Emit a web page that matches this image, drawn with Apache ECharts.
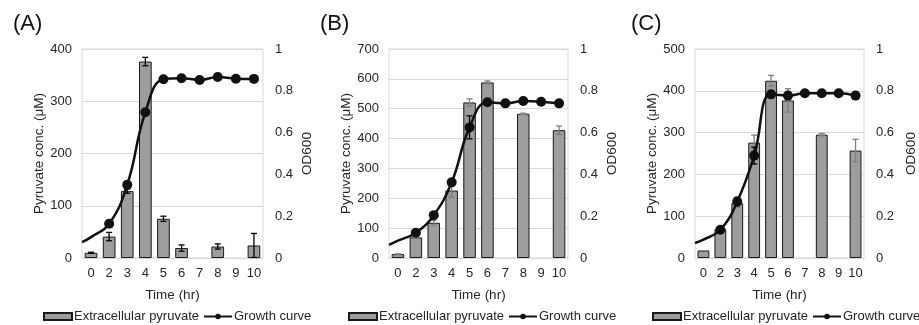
<!DOCTYPE html>
<html>
<head>
<meta charset="utf-8">
<script src="https://cdn.jsdelivr.net/npm/echarts@6/dist/echarts.min.js"></script>
<style>
  html, body { margin: 0; padding: 0; background: #fff; }
  #chart { width: 919px; height: 325px; }
</style>
</head>
<body>
<div id="chart"></div>
<script>
// time points (hr)
const categories = ['0', '2', '3', '4', '5', '6', '7', '8', '9', '10'];

// extracellular pyruvate (uM) and its error
const pyruvateA = [10, 41, 128, 376, 75, 19, null, 22, null, 24];
const pyruvateErrA = [1, 8, 4, 8, 5, 6, null, 5, null, 23];
const pyruvateB = [13, 69, 118, 226, 521, 588, null, 483, null, 428];
const pyruvateErrB = [1, 2, 8, 22, 12, 5, null, 2, null, 14];
const pyruvateC = [18, 69, 131, 276, 424, 377, null, 295, null, 257];
const pyruvateErrC = [0, 3, 10, 18, 13, 28, null, 3, null, 27];

// growth curve (OD600); first point at time 0 drawn without marker
const odA = [0.10, 0.164, 0.350, 0.697, 0.855, 0.860, 0.852, 0.866, 0.858, 0.857];
const odErrA = [null, null, null, null, null, null, null, null, null, null];
const odB = [0.083, 0.121, 0.205, 0.362, 0.625, 0.745, 0.740, 0.751, 0.748, 0.740];
const odErrB = [null, null, null, null, 0.055, null, null, null, null, null];
const odC = [0.088, 0.135, 0.270, 0.490, 0.783, 0.777, 0.788, 0.788, 0.788, 0.777];
const odErrC = [null, 0.012, 0.02, 0.04, null, null, null, null, null, null];

// curve value where it enters the plot at the left edge
const odEdge = [0.076, 0.063, 0.072];

const panels = [
  { label: '(A)', pyr: pyruvateA, pyrErr: pyruvateErrA, od: odA, odErr: odErrA, yMax: 400,
    left: 82, width: 181, labelLeft: 8, legendLeft: 38, barErrColor: '#000', nameGapL: 35, nameGapR: 37 },
  { label: '(B)', pyr: pyruvateB, pyrErr: pyruvateErrB, od: odB, odErr: odErrB, yMax: 700,
    left: 389, width: 179, labelLeft: 315, legendLeft: 343, barErrColor: '#7f7f7f', nameGapL: 36, nameGapR: 37 },
  { label: '(C)', pyr: pyruvateC, pyrErr: pyruvateErrC, od: odC, odErr: odErrC, yMax: 500,
    left: 695, width: 178, labelLeft: 626, legendLeft: 647, barErrColor: '#7f7f7f', nameGapL: 34, nameGapR: 40 }
];

const FONT = 'Liberation Sans';
const TEXT = '#262626';

function errorRender(color) {
  return function (params, api) {
    const x = api.value(0);
    const y = api.value(1);
    const e = api.value(2);
    const top = api.coord([x, y + e]);
    const bot = api.coord([x, y - e]);
    const cap = 3;
    const style = { stroke: color, lineWidth: 1.3 };
    return {
      type: 'group',
      children: [
        { type: 'line', shape: { x1: top[0], y1: top[1], x2: bot[0], y2: bot[1] }, style: style },
        { type: 'line', shape: { x1: top[0] - cap, y1: top[1], x2: top[0] + cap, y2: top[1] }, style: style },
        { type: 'line', shape: { x1: bot[0] - cap, y1: bot[1], x2: bot[0] + cap, y2: bot[1] }, style: style }
      ]
    };
  };
}

const option = {
  animation: false,
  textStyle: { fontFamily: FONT },
  title: [], grid: [], xAxis: [], yAxis: [], legend: [], series: []
};

panels.forEach(function (p, k) {
  option.title.push({
    text: p.label, left: p.labelLeft, top: 8,
    textStyle: { fontFamily: FONT, fontSize: 22, fontWeight: 'normal', color: '#111' }
  });
  option.grid.push({
    left: p.left, width: p.width, top: 49, bottom: 67,
    show: true, borderColor: '#d9d9d9', borderWidth: 1, backgroundColor: 'transparent'
  });
  // category axis for bars
  option.xAxis.push({
    type: 'category', gridIndex: k, data: categories,
    name: 'Time (hr)', nameLocation: 'middle', nameGap: 30,
    nameTextStyle: { fontFamily: FONT, fontSize: 13.5, color: TEXT },
    axisLine: { lineStyle: { color: '#d9d9d9' } },
    axisTick: { show: false },
    axisLabel: { fontFamily: FONT, fontSize: 13, color: TEXT, margin: 9, interval: 0 }
  });
  // hidden value axis for the growth curve, aligned with category centres
  option.xAxis.push({
    type: 'value', gridIndex: k, min: -0.5, max: categories.length - 0.5, show: false
  });
  option.yAxis.push({
    type: 'value', gridIndex: k, min: 0, max: p.yMax, interval: 100,
    name: 'Pyruvate conc. (μM)', nameLocation: 'middle', nameGap: p.nameGapL, nameRotate: 90,
    nameTextStyle: { fontFamily: FONT, fontSize: 13.5, color: TEXT },
    axisLine: { show: false }, axisTick: { show: false },
    axisLabel: { fontFamily: FONT, fontSize: 13, color: TEXT, margin: 10 },
    splitLine: { lineStyle: { color: '#d9d9d9' } }
  });
  option.yAxis.push({
    type: 'value', gridIndex: k, position: 'right', min: 0, max: 1, interval: 0.2,
    name: 'OD600', nameLocation: 'middle', nameGap: p.nameGapR, nameRotate: 90,
    nameTextStyle: { fontFamily: FONT, fontSize: 13.5, color: TEXT },
    axisLine: { show: false }, axisTick: { show: false },
    axisLabel: { fontFamily: FONT, fontSize: 13, color: TEXT, margin: 12 },
    splitLine: { show: false }
  });
  option.legend.push({
    left: p.legendLeft, top: 305, width: 320, itemWidth: 28, itemHeight: 7, itemGap: 4,
    textStyle: { fontFamily: FONT, fontSize: 13, color: TEXT, padding: [0, 0, 0, -3] },
    data: [{ name: 'Extracellular pyruvate', icon: 'rect' }, { name: 'Growth curve' }]
  });

  const xCat = 2 * k, xVal = 2 * k + 1, yL = 2 * k, yR = 2 * k + 1;

  option.series.push({
    name: 'Extracellular pyruvate', type: 'bar', xAxisIndex: xCat, yAxisIndex: yL,
    data: p.pyr, barWidth: '70%',
    itemStyle: { color: '#9d9d9d', borderColor: '#1a1a1a', borderWidth: 1 },
    z: 2
  });
  option.series.push({
    name: 'pyrErr' + k, type: 'custom', xAxisIndex: xCat, yAxisIndex: yL,
    data: p.pyr.map(function (v, i) { return v == null || !p.pyrErr[i] ? null : [i, v, p.pyrErr[i]]; })
      .filter(function (d) { return d; }),
    renderItem: errorRender(p.barErrColor), z: 3, silent: true
  });

  const lineData = [{ value: [-0.5, odEdge[k]], symbol: 'none' }];
  p.od.forEach(function (v, i) {
    lineData.push(i === 0 ? { value: [i, v], symbol: 'none' } : [i, v]);
  });
  option.series.push({
    name: 'Growth curve', type: 'line', xAxisIndex: xVal, yAxisIndex: yR,
    data: lineData, smooth: 0.45,
    symbol: 'circle', symbolSize: 10, showAllSymbol: true,
    lineStyle: { color: '#111', width: 2.5 },
    itemStyle: { color: '#111' },
    z: 4
  });
  option.series.push({
    name: 'odErr' + k, type: 'custom', xAxisIndex: xVal, yAxisIndex: yR,
    data: p.od.map(function (v, i) { return p.odErr[i] ? [i, v, p.odErr[i]] : null; })
      .filter(function (d) { return d; }),
    renderItem: errorRender('#000'), z: 5, silent: true
  });
});

const chart = echarts.init(document.getElementById('chart'));
chart.setOption(option);
</script>
</body>
</html>
